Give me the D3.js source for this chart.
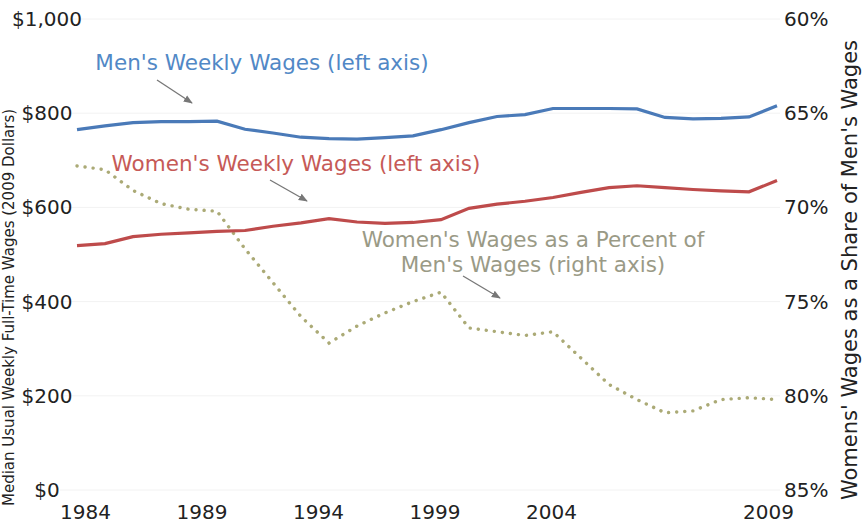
<!DOCTYPE html>
<html>
<head>
<meta charset="utf-8">
<script src="https://cdn.jsdelivr.net/npm/d3@7"></script>
<style>
  body { margin: 0; background: #fff; }
  svg { display: block; font-family: "DejaVu Sans", Verdana, sans-serif; }
</style>
</head>
<body>
<svg id="viz" width="864" height="525"></svg>
<script>
// yearly values
var years = [1984, 1985, 1986, 1987, 1988, 1989, 1990, 1991, 1992, 1993, 1994, 1995, 1996,
             1997, 1998, 1999, 2000, 2001, 2002, 2003, 2004, 2005, 2006, 2007, 2008, 2009];
var mensWages = [765, 773, 780, 782, 782, 783, 766, 758, 749, 746, 745, 748, 752,
                 765, 780, 793, 797, 810, 810, 810, 809, 791, 788, 789, 792, 816];
var womensWages = [519, 523, 538, 543, 546, 549, 551, 560, 567, 576, 569, 566, 568,
                   574, 598, 607, 613, 621, 632, 642, 646, 642, 638, 635, 633, 657];
var womensShare = [67.8, 68.0, 69.1, 69.8, 70.1, 70.2, 72.2, 74.0, 75.8, 77.2, 76.3, 75.6, 75.0,
                   74.5, 76.4, 76.6, 76.8, 76.6, 78.0, 79.4, 80.2, 80.9, 80.8, 80.2, 80.1, 80.2];

var wageTicks = [0, 200, 400, 600, 800, 1000];
var shareTicks = [60, 65, 70, 75, 80, 85];
var yearTicks = [1984, 1989, 1994, 1999, 2004, 2009];

var svg = d3.select("#viz");

var x = d3.scaleLinear().domain([1984, 2009]).range([77, 777]);
// the original's year labels don't sit on the data years, so they get their own scale
var xLabel = d3.scaleLinear().domain([1984, 2004, 2009]).range([85, 551, 768]);
var yLeft = d3.scaleLinear().domain([0, 1000]).range([490, 19]);
var yRight = d3.scaleLinear().domain([60, 85]).range([19, 490]);

// faint gridlines
svg.append("g").attr("class", "grid")
    .selectAll("line")
    .data(wageTicks)
    .enter()
    .append("line")
    .attr("x1", 60).attr("x2", 780)
    .attr("y1", function (d) { return yLeft(d); })
    .attr("y2", function (d) { return yLeft(d); })
    .attr("stroke", "#f2f2f2")
    .attr("stroke-width", 1);

// axes
var leftAxis = svg.append("g")
    .attr("transform", "translate(47,0)")
    .call(d3.axisLeft(yLeft).tickValues(wageTicks).tickSize(0)
        .tickFormat(function (d) { return "$" + d3.format(",")(d); }));
leftAxis.selectAll("text").attr("x", 0).attr("text-anchor", "middle");

var rightAxis = svg.append("g")
    .attr("transform", "translate(784,0)")
    .call(d3.axisRight(yRight).tickValues(shareTicks).tickSize(0).tickPadding(0)
        .tickFormat(function (d) { return d + "%"; }));

var bottomAxis = svg.append("g")
    .attr("transform", "translate(0,505)")
    .call(d3.axisBottom(xLabel).tickValues(yearTicks).tickSize(0).tickPadding(0)
        .tickFormat(d3.format("d")));

[leftAxis, rightAxis, bottomAxis].forEach(function (a) {
    a.select(".domain").remove();
    a.selectAll("text")
        .style("font-family", "DejaVu Sans, Verdana, sans-serif")
        .style("font-size", "20px")
        .attr("fill", "#222");
});
bottomAxis.selectAll("text").attr("dy", "0.71em");

// axis titles
svg.append("text")
    .attr("transform", "translate(14,506) rotate(-90)")
    .attr("text-anchor", "start")
    .style("font-size", "15px")
    .attr("fill", "#222")
    .text("Median Usual Weekly Full-Time Wages (2009 Dollars)");

svg.append("text")
    .attr("transform", "translate(857,270) rotate(-90)")
    .attr("text-anchor", "middle")
    .style("font-size", "21px")
    .attr("fill", "#222")
    .text("Womens' Wages as a Share of Men's Wages");

// lines
var wageLine = d3.line()
    .x(function (d, i) { return x(years[i]); })
    .y(function (d) { return yLeft(d); });

var shareLine = d3.line()
    .x(function (d, i) { return x(years[i]); })
    .y(function (d) { return yRight(d); });

svg.append("path")
    .datum(womensShare)
    .attr("d", shareLine)
    .attr("fill", "none")
    .attr("stroke", "#abaa76")
    .attr("stroke-width", 3.4)
    .attr("stroke-linecap", "round")
    .attr("stroke-dasharray", "0.1 8");

svg.append("path")
    .datum(mensWages)
    .attr("d", wageLine)
    .attr("fill", "none")
    .attr("stroke", "#4a7ab8")
    .attr("stroke-width", 3.2);

svg.append("path")
    .datum(womensWages)
    .attr("d", wageLine)
    .attr("fill", "none")
    .attr("stroke", "#be4b4b")
    .attr("stroke-width", 3.2);

// annotations
svg.append("defs").append("marker")
    .attr("id", "head")
    .attr("viewBox", "0 0 10 10")
    .attr("refX", 9).attr("refY", 5)
    .attr("markerWidth", 7).attr("markerHeight", 7)
    .attr("orient", "auto")
    .append("path")
    .attr("d", "M0,1 L10,5 L0,9 z")
    .attr("fill", "#777");

var notes = [
    { lines: ["Men's Weekly Wages (left axis)"], x: 262, y: 70, color: "#5188c6",
      arrow: [157, 80, 192, 103] },
    { lines: ["Women's Weekly Wages (left axis)"], x: 296, y: 171, color: "#c65a57",
      arrow: [270, 180, 307, 201] },
    { lines: ["Women's Wages as a Percent of", "Men's Wages (right axis)"], x: 533, y: 247,
      color: "#9a9a86", arrow: [463, 276, 500, 298] }
];

notes.forEach(function (n) {
    var t = svg.append("text")
        .attr("text-anchor", "middle")
        .style("font-size", "21.5px")
        .attr("fill", n.color);
    n.lines.forEach(function (l, i) {
        t.append("tspan").attr("x", n.x).attr("y", n.y + i * 25).text(l);
    });
    svg.append("line")
        .attr("x1", n.arrow[0]).attr("y1", n.arrow[1])
        .attr("x2", n.arrow[2]).attr("y2", n.arrow[3])
        .attr("stroke", "#777")
        .attr("stroke-width", 1.3)
        .attr("marker-end", "url(#head)");
});
</script>
</body>
</html>
